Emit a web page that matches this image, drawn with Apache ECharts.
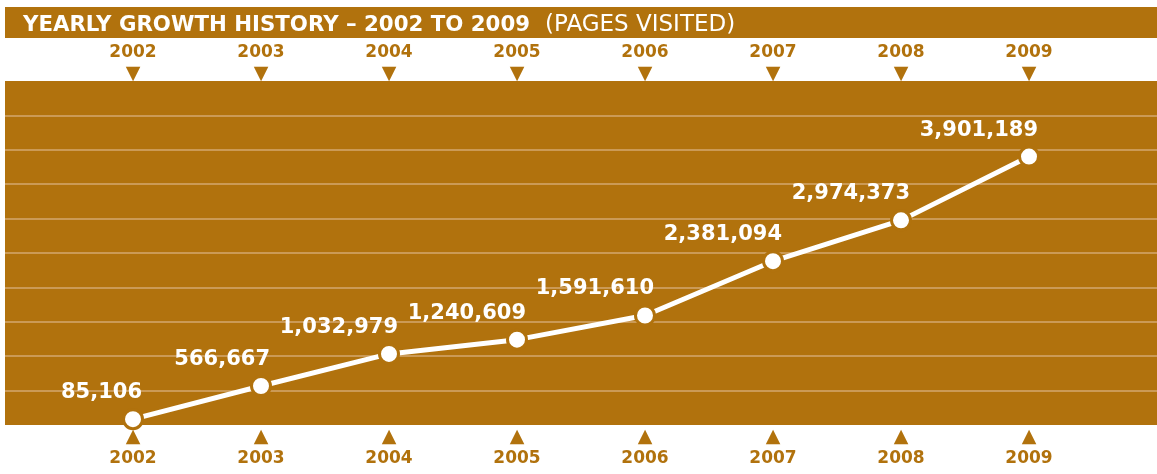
<!DOCTYPE html>
<html>
<head>
<meta charset="utf-8">
<script src="https://cdn.jsdelivr.net/npm/echarts@6/dist/echarts.min.js"></script>
<style>html,body{margin:0;padding:0;background:#fff;}#c{width:1157px;height:474px;}</style>
</head>
<body>
<div id="c"></div>
<script>
var years = [2002, 2003, 2004, 2005, 2006, 2007, 2008, 2009];
var pagesVisited = [85106, 566667, 1032979, 1240609, 1591610, 2381094, 2974373, 3901189];
var yTicks = { min: 0, max: 5000000, interval: 500000 };
var xRange = { min: 2001, max: 2010 };

var BROWN = '#B1720D';
var GRID = '#CB9A56';
var FONT = 'DejaVu Sans';

var chart = echarts.init(document.getElementById('c'), null, { renderer: 'canvas' });

function yearLabel(v) {
  return years.indexOf(v) >= 0 ? String(v) : '';
}

chart.setOption({
  animation: false,
  backgroundColor: '#fff',
  graphic: [{
    type: 'rect', left: 5, top: 7, shape: { width: 1152, height: 31 },
    style: { fill: BROWN }, z: 0
  }],
  title: {
    left: 18, top: 9,
    text: '{b|YEARLY GROWTH HISTORY – 2002 TO 2009}   {n|(PAGES VISITED)}',
    textStyle: {
      rich: {
        b: { fontFamily: FONT, fontWeight: 'bold', fontSize: 21.3, color: '#fff' },
        n: { fontFamily: FONT, fontWeight: 'normal', fontSize: 23, color: '#fff' }
      }
    }
  },
  grid: {
    left: 5, right: 0, top: 81, bottom: 49,
    outerBoundsMode: 'none',
    show: true, backgroundColor: BROWN, borderWidth: 0
  },
  xAxis: [{
    type: 'value', position: 'top', min: xRange.min, max: xRange.max, interval: 1,
    axisLine: { show: false }, axisTick: { show: false }, splitLine: { show: false },
    showMinLabel: false, showMaxLabel: false,
    axisLabel: {
      margin: -3,
      formatter: function (v) { var s = yearLabel(v); return s ? '{y|' + s + '}\n{t|▼}' : ''; },
      rich: {
        y: { fontFamily: FONT, fontWeight: 'bold', fontSize: 17, color: BROWN, lineHeight: 22 },
        t: { fontFamily: FONT, fontSize: 19, color: BROWN, lineHeight: 20 }
      }
    }
  }, {
    type: 'value', position: 'bottom', min: xRange.min, max: xRange.max, interval: 1,
    axisLine: { show: false }, axisTick: { show: false }, splitLine: { show: false },
    showMinLabel: false, showMaxLabel: false,
    axisLabel: {
      margin: 2,
      formatter: function (v) { var s = yearLabel(v); return s ? '{t|▲}\n{y|' + s + '}' : ''; },
      rich: {
        y: { fontFamily: FONT, fontWeight: 'bold', fontSize: 17, color: BROWN, lineHeight: 24 },
        t: { fontFamily: FONT, fontSize: 19, color: BROWN, lineHeight: 20 }
      }
    }
  }],
  yAxis: {
    type: 'value', min: yTicks.min, max: yTicks.max, interval: yTicks.interval,
    axisLine: { show: false }, axisTick: { show: false }, axisLabel: { show: false },
    splitLine: { show: true, showMinLine: false, showMaxLine: false, lineStyle: { color: GRID, width: 2 } }
  },
  series: [{
    type: 'line',
    xAxisIndex: 0,
    data: years.map(function (y, i) { return [y, pagesVisited[i]]; }),
    lineStyle: { color: '#fff', width: 5 },
    symbol: 'circle', symbolSize: 19,
    itemStyle: { color: '#fff', borderColor: BROWN, borderWidth: 3 },
    label: {
      show: true, position: 'top', align: 'right', distance: 5, offset: [9, 0],
      fontFamily: FONT, fontWeight: 'bold', fontSize: 21, color: '#fff',
      formatter: function (p) { return p.value[1].toLocaleString('en-US'); }
    },
    z: 5
  }]
});
</script>
</body>
</html>
